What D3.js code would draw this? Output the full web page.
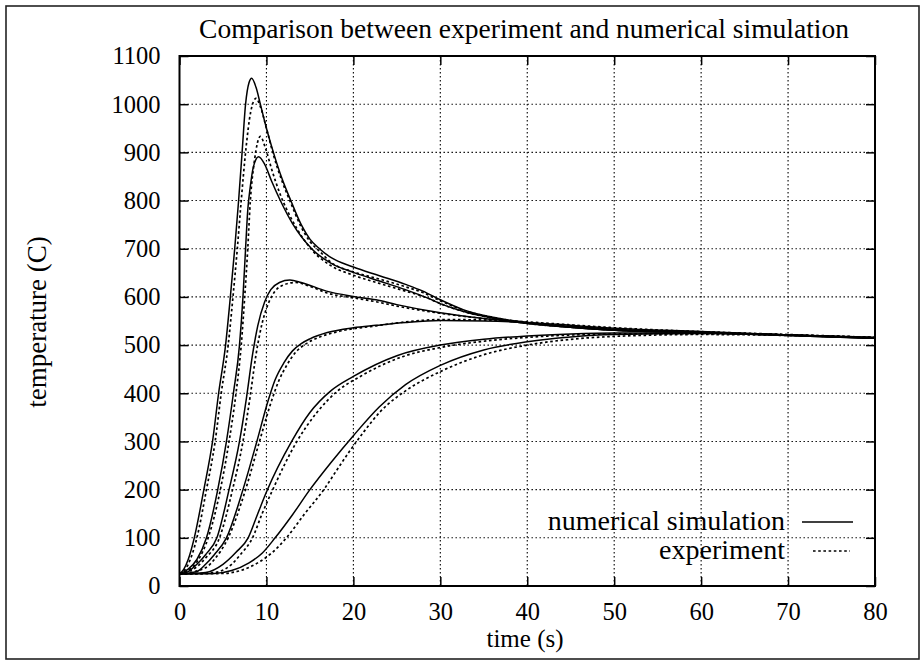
<!DOCTYPE html>
<html>
<head>
<meta charset="utf-8">
<script src="https://cdn.jsdelivr.net/npm/d3@7"></script>
<style>
  body { margin: 0; background: #fff; }
  svg text { font-family: 'Liberation Serif', 'DejaVu Serif', serif; fill: #000; }
</style>
</head>
<body>
<div id="chart"></div>
<script>
// temperature history at six points, simulation vs measurement
const chartTitle = 'Comparison between experiment and numerical simulation';
const xLabel = 'time (s)';
const yLabel = 'temperature (C)';
const legendLabels = ['numerical simulation', 'experiment'];
const xTicks = [0, 10, 20, 30, 40, 50, 60, 70, 80];
const yTicks = [0, 100, 200, 300, 400, 500, 600, 700, 800, 900, 1000, 1100];

// [time, temperature] pairs
const simA = [[0,25],[0.5,35],[1,55],[1.7,100],[2.8,200],[3.8,300],[4.5,400],[5.3,500],[5.85,600],[6.35,700],[6.8,800],[7.2,900],[7.6,1000],[8,1045],[8.3,1054],[8.8,1035],[9.3,1000],[10,950],[10.8,900],[11.8,845],[12.8,800],[14,750],[15,720],[16.1,700],[17.4,682],[20,662],[23,644],[26,626],[28,612],[30,594],[32.7,573],[36.5,556],[40,547],[45,537],[50,531],[60,526],[70,520],[80,514]];
const expA = [[0,25],[1,45],[2,100],[3.1,200],[4.1,300],[4.8,400],[5.6,500],[6.15,600],[6.65,700],[7.1,800],[7.6,900],[8.2,985],[8.8,1012],[9.3,995],[10,950],[10.8,895],[11.8,840],[12.8,795],[14,745],[15,715],[16.1,695],[17.4,672],[20,652],[23,637],[26,621],[28,609],[30,592],[32.7,572],[36.5,556],[40,546],[45,537],[50,531],[60,526],[70,521],[80,516]];
const simB = [[0,25],[1,35],[2,55],[3.1,100],[4.4,200],[5.4,300],[6.2,400],[6.9,500],[7.3,600],[7.6,700],[7.85,780],[8.15,830],[8.5,870],[9.1,891],[9.8,875],[10.6,840],[11.6,800],[13,752],[15.2,700],[17.4,670],[20,651],[23,633],[26,615],[28.5,598],[30,586],[33,568],[37,553],[40,545],[45,537],[50,531],[60,526],[70,520],[80,514]];
const expB = [[0,25],[1,32],[2,50],[3.3,100],[4.7,200],[5.7,300],[6.5,400],[7.1,500],[7.5,600],[7.85,700],[8.15,800],[8.6,880],[9.3,933],[9.9,908],[10.6,865],[11.6,812],[13,758],[15.2,698],[17.4,665],[20,645],[23,628],[26,612],[28.5,598],[30,586],[33,568],[37,553],[40,545],[45,537],[50,531],[60,526],[70,521],[80,516]];
const simC = [[0,25],[1,30],[2,45],[3,65],[4.3,100],[5.7,200],[6.9,300],[7.7,390],[8.4,480],[9,540],[9.8,590],[10.5,615],[11.5,630],[12.7,635],[14,630],[16.9,612],[20,601],[22.6,594],[25,584],[30,567],[35,555],[40,546],[45,539],[50,533],[60,527],[70,521],[80,514]];
const expC = [[0,25],[2,40],[3,58],[4.6,100],[6.1,200],[7.3,300],[8.1,390],[8.8,480],[9.5,545],[10.3,590],[11,612],[12,625],[13.3,630],[15,622],[17,608],[20,598],[22.6,590],[25,581],[30,566],[35,555],[40,546],[45,539],[50,533],[60,527],[70,521],[80,516]];
const simD = [[0,25],[2,30],[3,45],[4,65],[5.4,100],[7.3,200],[8.9,300],[10.2,385],[11,428],[12,463],[13,488],[14,503],[15,513],[17,526],[20,536],[22.6,541],[26,547],[30,551],[35,550],[40,547],[45,541],[50,535],[60,528],[70,521],[80,514]];
const expD = [[0,25],[3,38],[4,55],[5.6,100],[7.6,200],[9.2,300],[10.6,385],[11.4,425],[12.4,460],[13.4,486],[14.5,502],[16,516],[18,527],[22.6,540],[26,548],[30,553],[35,552],[40,548],[45,542],[50,536],[60,528],[70,522],[80,516]];
const simE = [[0,25],[3,28],[5,45],[6.5,70],[7.9,100],[9,150],[10,195],[12.9,300],[15,360],[17.4,405],[20,435],[25,478],[30,500],[35,512],[40,519],[45,523],[50,525],[60,525],[70,521],[80,515]];
const expE = [[0,25],[4,28],[6,45],[7,65],[8.4,100],[9.5,150],[10.6,195],[13.5,300],[15.8,360],[18.2,405],[20.8,435],[25.5,475],[30,495],[35,508],[40,516],[50,523],[60,524],[70,521],[80,515]];
const simF = [[0,25],[4,26],[6,32],[8,48],[9.5,68],[11,100],[13,148],[15,200],[17.5,258],[20,312],[23,372],[26,418],[30,458],[35,490],[40,507],[45,517],[50,522],[60,524],[70,521],[80,515]];
const expF = [[0,25],[5,26],[7,32],[9,48],[10.7,70],[12.3,100],[14.4,150],[16.6,200],[18,238],[19.5,278],[21.2,320],[23.1,362],[26,405],[30,445],[35,480],[40,500],[45,512],[50,518],[60,522],[70,520],[80,515]];

const simulations = [simA, simB, simC, simD, simE, simF];
const experiments = [expA, expB, expC, expD, expE, expF];

const width = 924, height = 663;
const plot = { left: 179.5, right: 875, top: 56, bottom: 586 };
const innerW = plot.right - plot.left;
const innerH = plot.bottom - plot.top;

const svg = d3.select('#chart').append('svg')
  .attr('width', width).attr('height', height)
  .attr('viewBox', `0 0 ${width} ${height}`);

// page frame
svg.append('rect').attr('x', 6).attr('y', 6).attr('width', 913).attr('height', 653)
  .attr('fill', 'none').attr('stroke', '#222').attr('stroke-width', 1.6);

const x = d3.scaleLinear().domain([0, 80]).range([plot.left, plot.right]);
const y = d3.scaleLinear().domain([0, 1100]).range([plot.bottom, plot.top]);

// dotted grid
const grid = svg.append('g').attr('stroke', '#000').attr('stroke-width', 1.1).attr('stroke-dasharray', '1.4,2.6');
grid.selectAll('.gx').data(xTicks.slice(1, -1)).join('line')
  .attr('x1', d => x(d)).attr('x2', d => x(d)).attr('y1', plot.top).attr('y2', plot.bottom);
grid.selectAll('.gy').data(yTicks.slice(1, -1)).join('line')
  .attr('x1', plot.left).attr('x2', plot.right).attr('y1', d => y(d)).attr('y2', d => y(d));

// axes: ticks point inwards, labels outside
function styleAxis(g, showText) {
  g.attr('font-family', null).attr('font-size', null);
  g.select('.domain').remove();
  g.selectAll('.tick line').attr('stroke', '#000').attr('stroke-width', 1.5);
  g.selectAll('.tick text').style('font-size', '24.5px').style('display', showText ? null : 'none');
}
const fmt = d3.format('d');
svg.append('g').attr('transform', `translate(${plot.left},0)`)
  .call(d3.axisLeft(y).tickValues(yTicks).tickFormat(fmt).tickSizeInner(-9).tickSizeOuter(0).tickPadding(19))
  .call(g => styleAxis(g, true));
svg.append('g').attr('transform', `translate(${plot.right},0)`)
  .call(d3.axisRight(y).tickValues(yTicks).tickSizeInner(-9).tickSizeOuter(0))
  .call(g => styleAxis(g, false));
svg.append('g').attr('transform', `translate(0,${plot.bottom})`)
  .call(d3.axisBottom(x).tickValues(xTicks).tickFormat(fmt).tickSizeInner(-9).tickSizeOuter(0).tickPadding(17))
  .call(g => styleAxis(g, true));
svg.append('g').attr('transform', `translate(0,${plot.top})`)
  .call(d3.axisTop(x).tickValues(xTicks).tickSizeInner(-9).tickSizeOuter(0))
  .call(g => styleAxis(g, false));

svg.append('rect').attr('x', plot.left).attr('y', plot.top).attr('width', innerW).attr('height', innerH)
  .attr('fill', 'none').attr('stroke', '#000').attr('stroke-width', 2);

// curves
const line = d3.line().x(d => x(d[0])).y(d => y(d[1])).curve(d3.curveMonotoneX);
svg.append('g').selectAll('path').data(experiments).join('path')
  .attr('d', line).attr('fill', 'none').attr('stroke', '#000')
  .attr('stroke-width', 1.7).attr('stroke-dasharray', '2.6,2.6');
svg.append('g').selectAll('path').data(simulations).join('path')
  .attr('d', line).attr('fill', 'none').attr('stroke', '#000').attr('stroke-width', 1.5);

// legend
const legend = svg.append('g').style('font-size', '28px');
legend.append('text').attr('x', 785).attr('y', 530).attr('text-anchor', 'end').text(legendLabels[0]);
legend.append('line').attr('x1', 802).attr('x2', 853).attr('y1', 522).attr('y2', 522)
  .attr('stroke', '#000').attr('stroke-width', 1.5);
legend.append('text').attr('x', 785).attr('y', 559).attr('text-anchor', 'end').text(legendLabels[1]);
legend.append('line').attr('x1', 813).attr('x2', 850).attr('y1', 551).attr('y2', 551)
  .attr('stroke', '#000').attr('stroke-width', 1.5).attr('stroke-dasharray', '2.6,2.6');

// titles
svg.append('text').attr('x', 524).attr('y', 38).attr('text-anchor', 'middle')
  .style('font-size', '27.5px').text(chartTitle);
svg.append('text').attr('x', 525).attr('y', 647).attr('text-anchor', 'middle')
  .style('font-size', '25px').text(xLabel);
svg.append('text').attr('transform', `translate(46,322) rotate(-90)`).attr('text-anchor', 'middle')
  .style('font-size', '27px').text(yLabel);
</script>
</body>
</html>
